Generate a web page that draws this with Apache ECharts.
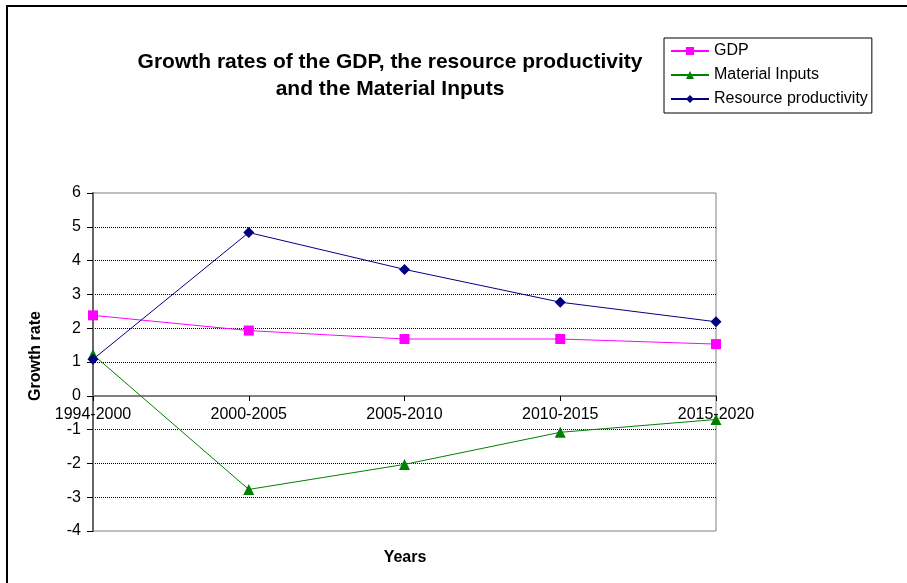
<!DOCTYPE html>
<html>
<head>
<meta charset="utf-8">
<title>Growth rates</title>
<script src="https://cdn.jsdelivr.net/npm/echarts@6/dist/echarts.min.js"></script>
<style>
  html, body { margin: 0; padding: 0; background: #fff; }
  #chart { width: 907px; height: 583px; }
</style>
</head>
<body>
<div id="chart"></div>
<script>
// periods on the x axis
var periods = ["1994-2000", "2000-2005", "2005-2010", "2010-2015", "2015-2020"];
// growth rates
var gdp = [2.38, 1.93, 1.68, 1.68, 1.53];
var materialInputs = [1.22, -2.77, -2.03, -1.08, -0.7];
var resourceProductivity = [1.08, 4.83, 3.74, 2.77, 2.19];
var yTicks = [-4, -3, -2, -1, 0, 1, 2, 3, 4, 5, 6];

var font = "Arial, 'Liberation Sans', sans-serif";

var chart = echarts.init(document.getElementById("chart"));

// 折线样式
function lineSeries(name, data, color, symbol, size) {
  return {
    name: name,
    type: "line",
    data: data,
    symbol: symbol,
    symbolSize: size,
    lineStyle: { color: color, width: 1 },
    itemStyle: { color: color },
    emphasis: { disabled: true },
    z: 3
  };
}

chart.setOption({
  animation: false,
  textStyle: { fontFamily: font },
  title: {
    text: "Growth rates of the GDP, the resource productivity\nand the Material Inputs",
    left: 385,
    top: 44,
    textAlign: "center",
    textStyle: {
      fontFamily: font,
      fontSize: 21,
      fontWeight: "bold",
      color: "#000",
      lineHeight: 27
    }
  },
  legend: {
    orient: "vertical",
    left: 664,
    top: 38,
    padding: [5, 4, 6, 6],
    itemWidth: 38,
    itemHeight: 10,
    itemGap: 8,
    borderColor: "#000",
    borderWidth: 1,
    backgroundColor: "#fff",
    textStyle: { fontFamily: font, fontSize: 16, color: "#000" },
    data: ["GDP", "Material Inputs", "Resource productivity"]
  },
  grid: {
    left: 93,
    right: 191,
    top: 193,
    bottom: 52,
    show: true,
    borderColor: "#808080",
    borderWidth: 1,
    backgroundColor: "transparent"
  },
  xAxis: {
    type: "category",
    data: periods,
    boundaryGap: false,
    // 轴线放在 0 的位置
    offset: -135,
    axisLine: { onZero: false, lineStyle: { color: "#808080", width: 2 } },
    axisTick: { show: true, length: 5, alignWithLabel: true, lineStyle: { color: "#000" } },
    axisLabel: { color: "#000", fontSize: 16, margin: 11, fontFamily: font },
    splitLine: { show: false }
  },
  yAxis: {
    type: "value",
    min: yTicks[0],
    max: yTicks[yTicks.length - 1],
    interval: 1,
    axisLine: { show: true, onZero: false, lineStyle: { color: "#666", width: 2 } },
    axisTick: { show: true, length: 6, lineStyle: { color: "#000" } },
    axisLabel: { color: "#000", fontSize: 16, margin: 12, fontFamily: font },
    splitLine: {
      show: true,
      showMinLine: false,
      showMaxLine: false,
      lineStyle: { color: "#000", type: [1, 1], width: 1 }
    }
  },
  graphic: [
    {
      type: "rect",
      shape: { x: 7, y: 6, width: 1000, height: 700 },
      style: { fill: "none", stroke: "#000", lineWidth: 2 },
      silent: true,
      z: -1
    },
    {
      type: "text",
      x: 36,
      y: 356,
      rotation: Math.PI / 2,
      style: {
        text: "Growth rate",
        fill: "#000",
        font: "bold 16px " + font,
        align: "center",
        verticalAlign: "middle"
      }
    },
    {
      type: "text",
      x: 405,
      y: 558,
      style: {
        text: "Years",
        fill: "#000",
        font: "bold 16px " + font,
        align: "center",
        verticalAlign: "middle"
      }
    }
  ],
  series: [
    lineSeries("GDP", gdp, "#FF00FF", "rect", 10),
    lineSeries("Material Inputs", materialInputs, "#008000", "triangle", 11),
    lineSeries("Resource productivity", resourceProductivity, "#000080", "diamond", 11)
  ]
});
</script>
</body>
</html>
